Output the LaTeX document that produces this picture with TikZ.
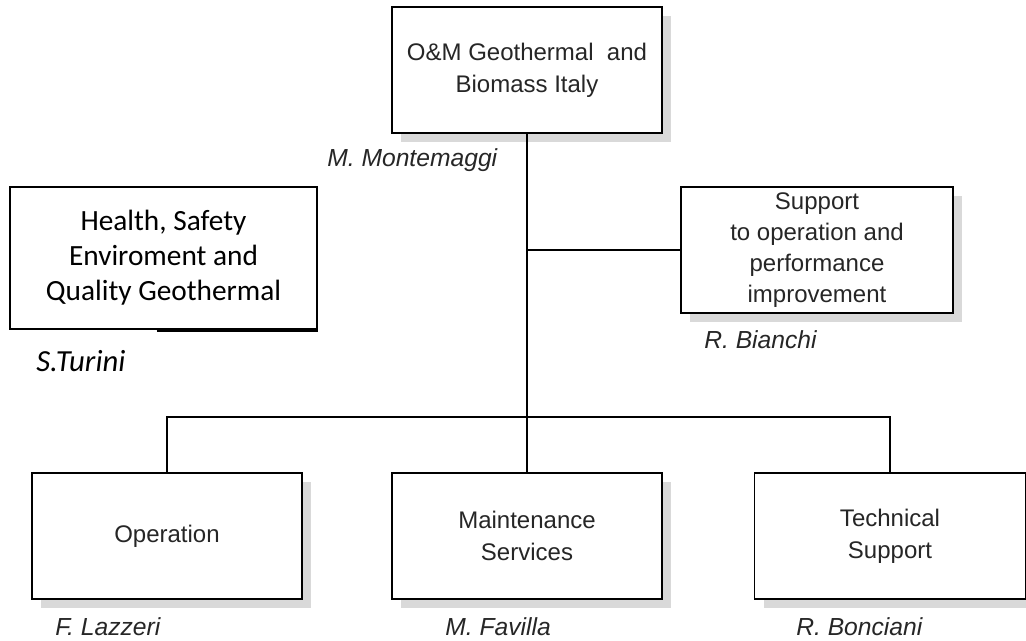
\documentclass[tikz,border=0pt]{standalone}
\usepackage{fontspec}
\setmainfont{Liberation Sans}
\newfontfamily\calfont{Carlito}
\usetikzlibrary{shadows}
\begin{document}
\begin{tikzpicture}[x=0.75pt,y=-0.75pt,
  unitbox/.style={draw=black,line width=1.1pt,fill=white,inner sep=0pt,
    align=center,text=black!85,font=\fontsize{18pt}{24pt}\selectfont,
    drop shadow={shadow xshift=7pt,shadow yshift=-7pt,fill=black!15,opacity=1}},
  hsebox/.style={draw=black,line width=1.4pt,fill=white,inner sep=0pt,
    align=center,font=\calfont\fontsize{22pt}{26.25pt}\selectfont},
  person/.style={anchor=west,inner sep=0pt,text=black!85,
    font=\itshape\fontsize{18.5pt}{22pt}\selectfont},
  hseperson/.style={anchor=west,inner sep=0pt,
    font=\calfont\itshape\fontsize{23pt}{26pt}\selectfont},
  link/.style={draw=black,line width=1.5pt}]
  \useasboundingbox (0,0) rectangle (1026,641);

  % head of the unit
  \node[unitbox,minimum width=202.5pt,minimum height=94.5pt] (top) at (527,70)
    {O\&M Geothermal\ \ and\\Biomass Italy};
  \node[person] (ptop) at (327,160) {M. Montemaggi};

  % staff functions
  \node[unitbox,minimum width=204pt,minimum height=94.5pt,
        font=\fontsize{18pt}{23.25pt}\selectfont] (sup) at (817,250)
    {Support\\to operation and\\performance\\improvement};
  \node[person] (psup) at (704,340) {R. Bianchi};

  \node[hsebox,minimum width=230pt,minimum height=106.5pt] (hse) at (163.5,258)
    {Health, Safety\\Enviroment and\\Quality Geothermal};
  % slightly heavier stroke on the right half of the lower edge
  \draw[line width=1.4pt] (hse.south) ++(-7,0.8) coordinate (hseA) -- (hseA -| hse.south east);
  \node[hseperson] (phse) at (36,361) {S.Turini};

  % line units
  \node[unitbox,minimum width=202.5pt,minimum height=94.5pt] (op) at (167,536)
    {Operation};
  \node[person] (pop) at (55,627) {F. Lazzeri};

  \node[unitbox,minimum width=202.5pt,minimum height=94.5pt] (mnt) at (527,536)
    {Maintenance\\Services};
  \node[person] (pmnt) at (445,627) {M. Favilla};

  \node[unitbox,minimum width=203pt,minimum height=94.5pt] (tech) at (890,536)
    {Technical\\Support};
  \node[person] (ptech) at (796,627) {R. Bonciani};

  % reporting lines
  \coordinate (jsup) at (527,250);
  \coordinate (jbar) at (527,417);
  \draw[link] (top.south) -- (jbar);
  \draw[link] (jsup) -- (sup.west);
  \draw[link] (jbar) -| (op.north);
  \draw[link] (jbar) -| (tech.north);
  \draw[link] (jbar) -- (mnt.north);
\end{tikzpicture}
\end{document}
